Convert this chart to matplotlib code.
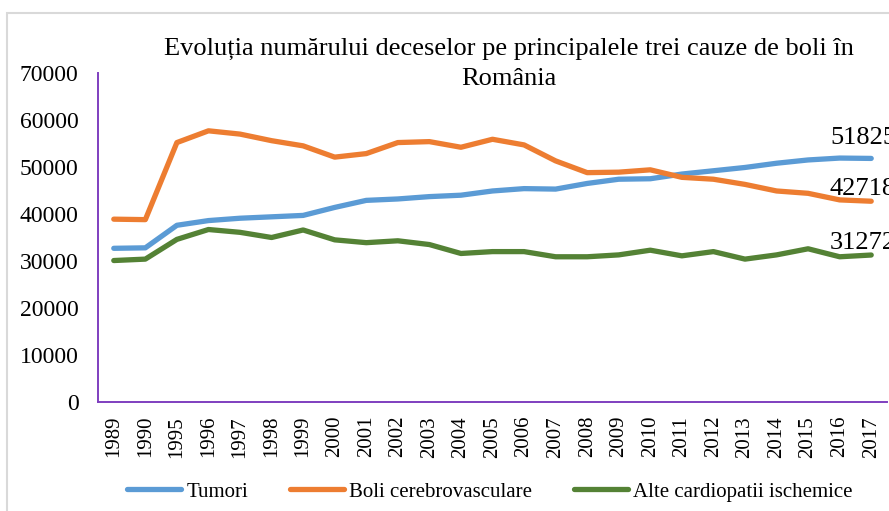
import matplotlib
matplotlib.use("Agg")
import matplotlib.pyplot as plt
from matplotlib.patches import Rectangle

years = ["1989", "1990", "1995", "1996", "1997", "1998", "1999", "2000", "2001",
         "2002", "2003", "2004", "2005", "2006", "2007", "2008", "2009", "2010",
         "2011", "2012", "2013", "2014", "2015", "2016", "2017"]

tumori = [32700, 32800, 37600, 38600, 39100, 39400, 39700, 41400, 42900,
          43200, 43700, 44000, 44900, 45400, 45300, 46500, 47400, 47500,
          48500, 49200, 49900, 50800, 51500, 51900, 51825]

boli_cv = [38900, 38800, 55200, 57700, 57000, 55600, 54500, 52100, 52850,
           55200, 55400, 54200, 55900, 54700, 51300, 48800, 48900, 49400,
           47800, 47400, 46300, 44900, 44400, 43000, 42718]

alte_ci = [30100, 30400, 34600, 36700, 36100, 35000, 36600, 34500, 33900,
           34300, 33500, 31600, 32000, 32000, 30900, 30900, 31300, 32300,
           31100, 32000, 30400, 31300, 32600, 30900, 31272]

series_names = ["Tumori", "Boli cerebrovasculare", "Alte cardiopatii ischemice"]
colors = ["#5B9BD5", "#ED7D31", "#548235"]
label_rise = [15, 9, 9]  # points above the last point
yticks = [0, 10000, 20000, 30000, 40000, 50000, 60000, 70000]

plt.rcParams['font.family'] = ['Liberation Serif', 'DejaVu Serif']

W, H = 889, 511
fig = plt.figure(figsize=(W / 100, H / 100), dpi=100)

# chart border
fig.patches.append(Rectangle((7 / W, -0.05), 1.1, 1 - 13 / H + 0.05,
                             transform=fig.transFigure, fill=False,
                             edgecolor="#d9d9d9", linewidth=1.5))

ax = fig.add_axes([98 / W, 1 - 402 / H, (887 - 98) / W, (402 - 73) / H])
x = list(range(len(years)))
for vals, name, c, rise in zip([tumori, boli_cv, alte_ci], series_names, colors, label_rise):
    ax.plot(x, vals, color=c, linewidth=3.8, label=name,
            solid_capstyle='round', solid_joinstyle='round')
    ax.annotate(f"{vals[-1]}", (x[-1], vals[-1]), xytext=(-6, rise),
                textcoords='offset points', ha='center', va='center',
                fontsize=19, annotation_clip=False)

ax.set_xlim(-0.5, len(years) - 0.5)
ax.set_ylim(0, 70000)
ax.set_yticks(yticks)
ax.set_yticklabels([str(v) for v in yticks], fontsize=17)
ax.set_xticks(x)
ax.set_xticklabels(years, rotation=90, fontsize=15)
ax.tick_params(axis='y', length=0, pad=14)
ax.tick_params(axis='x', length=0, pad=10)
for s in ['top', 'right']:
    ax.spines[s].set_visible(False)
for s in ['left', 'bottom']:
    ax.spines[s].set_color('#7F3FBF')
    ax.spines[s].set_linewidth(1.4)

fig.text(509 / W, 1 - 64 / H,
         "Evoluția numărului deceselor pe principalele trei cauze de boli în\nRomânia",
         ha='center', va='center', fontsize=19, linespacing=1.45)

fig.legend(loc='center', bbox_to_anchor=(490 / W, 1 - 492 / H), ncol=3,
           frameon=False, prop={'family': 'Liberation Serif', 'size': 15},
           handlelength=2.6, handletextpad=0.25, columnspacing=2.0)

fig.savefig("out.png", dpi=100)
